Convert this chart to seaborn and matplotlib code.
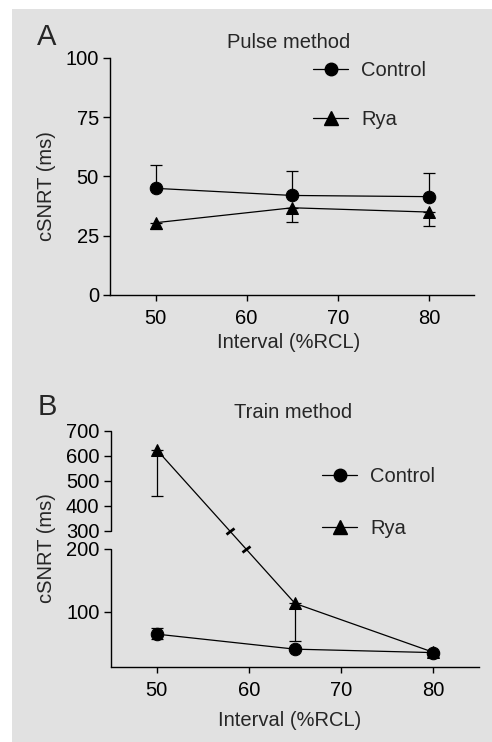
import numpy as np
import pandas as pd
import matplotlib
matplotlib.use("Agg")
import matplotlib.pyplot as plt
import seaborn as sns
from matplotlib.lines import Line2D
from matplotlib.markers import MarkerStyle
from matplotlib.patches import Rectangle
from matplotlib.transforms import Affine2D, blended_transform_factory

# ---------------- data ----------------
interval = [50, 65, 80]
series = ["Control", "Rya"]

pulse_control = [45.0, 42.0, 41.5]
pulse_control_err_lo = [0, 0, 0]
pulse_control_err_hi = [10.0, 10.2, 10.0]
pulse_rya = [30.5, 36.8, 35.0]
pulse_rya_err_lo = [2.7, 5.8, 6.0]
pulse_rya_err_hi = [0, 0, 0]

train_control = [64.0, 40.0, 34.5]
train_control_err_lo = [8.0, 0, 0]
train_control_err_hi = [9.5, 0, 0]
train_rya = [625.0, 113.0, 35.0]
train_rya_err_lo = [185.0, 60.0, 0]
train_rya_err_hi = [0, 0, 0]

pulse_yticks = [0, 25, 50, 75, 100]
train_yticks = [100, 200, 300, 400, 500, 600, 700]
xticks = [50, 60, 70, 80]

# ---------------- style ----------------
sns.set_theme(style="ticks")
FONT = ["Liberation Sans", "DejaVu Sans"]
plt.rcParams["font.family"] = FONT
BG = "#e1e1e1"
FS = 14.5

W, H = 492, 742
fig = plt.figure(figsize=(W / 100, H / 100), dpi=100)
fig.patch.set_facecolor("white")
fig.patches.append(Rectangle((12 / W, 0), 480 / W, 733 / H, transform=fig.transFigure,
                             facecolor=BG, edgecolor="none", zorder=-10))


def px_axes(left, top, right, bottom):
    return fig.add_axes([left / W, 1 - bottom / H, (right - left) / W, (bottom - top) / H])


def make_df(ctrl, rya):
    return pd.DataFrame({
        "interval": interval * 2,
        "value": list(ctrl) + list(rya),
        "group": ["Control"] * 3 + ["Rya"] * 3,
    })


def style_axes(ax):
    ax.set_facecolor("none")
    for s in ["top", "right"]:
        ax.spines[s].set_visible(False)
    for s in ["left", "bottom"]:
        ax.spines[s].set_color("black")
        ax.spines[s].set_linewidth(1.0)
    ax.tick_params(axis="y", length=5, width=1, pad=3, labelsize=FS, colors="black")
    ax.tick_params(axis="x", length=4, width=1, pad=6, labelsize=FS, colors="black")
    ax.set_xlim(45, 85)
    ax.set_xticks(xticks)
    ax.set_xlabel("")
    ax.set_ylabel("")


MS_C = 9
MS_T = 9.5
markers = {"Control": "o", "Rya": "^"}


def draw_series(ax, df):
    sns.lineplot(data=df, x="interval", y="value", style="group", markers=markers,
                 dashes=False, color="black", linewidth=0.9, markersize=MS_C,
                 markeredgecolor="black", legend=False, ax=ax, zorder=4)


def draw_err(ax, vals, lo, hi):
    ax.errorbar(interval, vals, yerr=[lo, hi], fmt="none", ecolor="black",
                elinewidth=0.9, capsize=4.2, capthick=0.9, zorder=3)


def add_legend(ax, x_px, y_px, spacing):
    handles = [
        Line2D([], [], color="black", lw=0.9, marker="o", ms=MS_C),
        Line2D([], [], color="black", lw=0.9, marker="^", ms=MS_T),
    ]
    ax.legend(handles, series, frameon=False, loc="upper left",
              bbox_to_anchor=(x_px / W, 1 - y_px / H), bbox_transform=fig.transFigure,
              handlelength=1.75, handletextpad=0.65, labelspacing=spacing, borderpad=0,
              borderaxespad=0, prop={"family": FONT, "size": FS})


# ---------------- Panel A ----------------
axA = px_axes(110, 58, 474.5, 295)
dfA = make_df(pulse_control, pulse_rya)
draw_series(axA, dfA)
draw_err(axA, pulse_control, pulse_control_err_lo, pulse_control_err_hi)
draw_err(axA, pulse_rya, pulse_rya_err_lo, pulse_rya_err_hi)
style_axes(axA)
axA.set_ylim(0, 100)
axA.set_yticks(pulse_yticks)
add_legend(axA, 313, 61, 1.5)

fig.text(47 / W, 1 - 37 / H, "A", fontsize=21, ha="center", va="center")
fig.text(289 / W, 1 - 42 / H, "Pulse method", fontsize=FS, ha="center", va="center")
fig.text(47 / W, 1 - 186 / H, "cSNRT (ms)", fontsize=FS, ha="center", va="center", rotation=90)
fig.text(289 / W, 1 - 343 / H, "Interval (%RCL)", fontsize=FS, ha="center", va="center")

# ---------------- Panel B (broken y axis) ----------------
YB = np.array([-1e4, 0, 200, 300, 700, 1e5])
PB = np.array([-6270.0, 0, 125.4, 143.4, 243.4, 243.4 + 0.25 * (1e5 - 700)])


def fwd(y):
    return np.interp(np.asarray(y, dtype=float), YB, PB)


def inv(p):
    return np.interp(np.asarray(p, dtype=float), PB, YB)


axB = px_axes(110.6, 431, 479.4, 666.7)
axB.set_yscale("function", functions=(fwd, inv))
dfB = make_df(train_control, train_rya)
draw_series(axB, dfB)
draw_err(axB, train_control, train_control_err_lo, train_control_err_hi)
draw_err(axB, train_rya, train_rya_err_lo, train_rya_err_hi)
style_axes(axB)
axB.set_ylim(12, 700)
axB.set_yticks(train_yticks)
axB.set_yticklabels([str(t) for t in train_yticks])
axB.yaxis.set_minor_locator(matplotlib.ticker.NullLocator())

# gap of the broken axis
axB.axhspan(200, 300, facecolor=BG, edgecolor="none", zorder=3.5)
axB.spines["left"].set_visible(False)
tr = blended_transform_factory(axB.transAxes, axB.transData)
axB.plot([0, 0], [12, 200], color="black", lw=1.0, transform=tr, clip_on=False, zorder=5)
axB.plot([0, 0], [300, 700], color="black", lw=1.0, transform=tr, clip_on=False, zorder=5)

# break marks on the Rya line
p0 = axB.transData.transform((interval[0], train_rya[0]))
p1 = axB.transData.transform((interval[1], train_rya[1]))
ang = np.degrees(np.arctan2(p1[1] - p0[1], p1[0] - p0[0]))
for yb in (300, 200):
    yd = axB.transData.transform((0, yb))[1]
    t = (yd - p0[1]) / (p1[1] - p0[1])
    xd = p0[0] + t * (p1[0] - p0[0])
    xdata, ydata = axB.transData.inverted().transform((xd, yd))
    mk = MarkerStyle("_", transform=Affine2D().rotate_deg(ang + 90))
    axB.plot([xdata], [ydata], marker=mk, ms=7, mew=2.0, color="black",
             linestyle="none", zorder=6, clip_on=False)

add_legend(axB, 322, 467, 1.65)

fig.text(47 / W, 1 - 407 / H, "B", fontsize=21, ha="center", va="center")
fig.text(293 / W, 1 - 413 / H, "Train method", fontsize=FS, ha="center", va="center")
fig.text(47 / W, 1 - 548 / H, "cSNRT (ms)", fontsize=FS, ha="center", va="center", rotation=90)
fig.text(290 / W, 1 - 720 / H, "Interval (%RCL)", fontsize=FS, ha="center", va="center")

fig.savefig("out.png", dpi=100, facecolor="white")
